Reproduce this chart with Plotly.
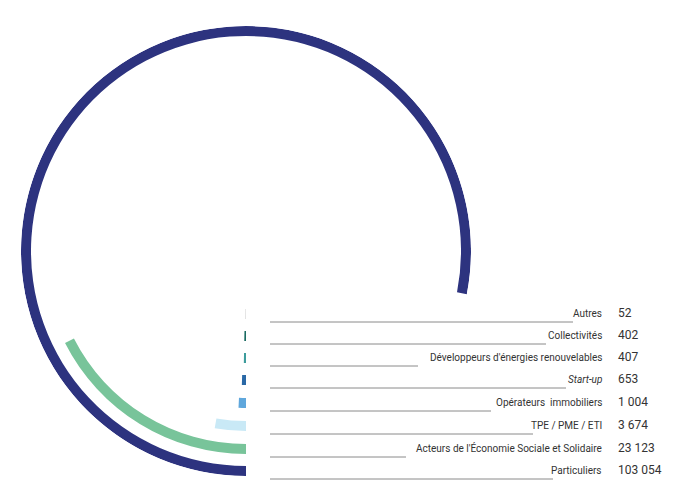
import plotly.graph_objects as go

categories = ["Autres", "Collectivités", "Développeurs d'énergies renouvelables", "<i>Start-up</i>",
              "Opérateurs  immobiliers", "TPE / PME / ETI", "Acteurs de l'Économie Sociale et Solidaire", "Particuliers"]
values = [52, 402, 407, 653, 1004, 3674, 23123, 103054]
value_labels = ["52", "402", "407", "653", "1 004", "3 674", "23 123", "103 054"]
colors = ["#b0b0b0", "#1b6b62", "#3d9c9c", "#2a68a6", "#5fa7dc", "#c9e9f6", "#78c49a", "#2d337f"]
line_ends = [565, 538, 410, 558, 483, 525, 398, 545]

W, H = 680, 502
cx, cy, R = 238, 243, 225
scale = 360 / 132000
row_y = [321, 343, 365, 387, 410, 433, 456, 478]
thick = 10

fig = go.Figure()
for i, (c, v) in enumerate(zip(categories, values)):
    outer = row_y[i] - 255 + 2
    span = max(v * scale, 0.3)
    fig.add_trace(go.Barpolar(r=[thick], base=[outer - thick], theta=[span / 2], width=[span],
                              marker=dict(color=colors[i], line=dict(width=0)), showlegend=False,
                              hoverinfo="skip"))
    yp = 1 - (row_y[i] - 7) / H
    fig.add_shape(type="line", xref="paper", yref="paper", x0=262 / W, x1=line_ends[i] / W,
                  y0=yp, y1=yp, line=dict(color="#8a8a8a", width=1))
    fig.add_annotation(xref="paper", yref="paper", x=596 / W, y=yp + 1 / H, text=c, showarrow=False,
                       xanchor="right", yanchor="bottom", font=dict(size=10, color="#333", family="Roboto"))
    fig.add_annotation(xref="paper", yref="paper", x=608 / W, y=yp, text=value_labels[i], showarrow=False,
                       xanchor="left", yanchor="bottom", font=dict(size=12, color="#333", family="Roboto"))

fig.update_layout(
    width=W, height=H, margin=dict(l=0, r=0, t=0, b=0), paper_bgcolor="white",
    polar=dict(domain=dict(x=[(cx - R) / W, (cx + R) / W], y=[1 - (cy + R) / H, 1 - (cy - R) / H]),
               bgcolor="rgba(0,0,0,0)", bargap=0,
               radialaxis=dict(range=[0, R], visible=False),
               angularaxis=dict(rotation=270, direction="clockwise", visible=False)),
)
fig.write_html("out.html")
